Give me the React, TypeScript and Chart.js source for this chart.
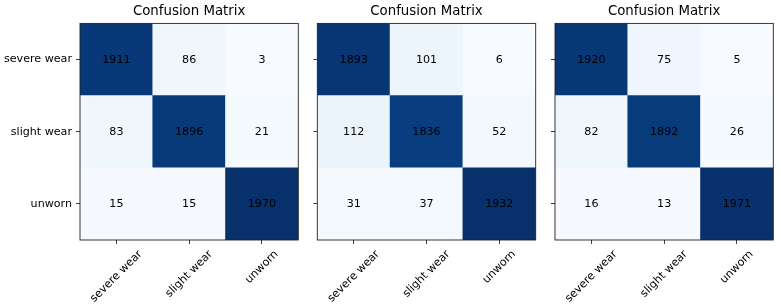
import React, { useEffect, useRef } from 'react';
import { Chart, registerables } from 'chart.js';

Chart.register(...registerables);

const classLabels = ['severe wear', 'slight wear', 'unworn'];
const matrixA = [
  [1911, 86, 3],
  [83, 1896, 21],
  [15, 15, 1970],
];
const matrixB = [
  [1893, 101, 6],
  [112, 1836, 52],
  [31, 37, 1932],
];
const matrixC = [
  [1920, 75, 5],
  [82, 1892, 26],
  [16, 13, 1971],
];
const titleText = 'Confusion Matrix';

const BLUES = ['#f7fbff', '#deebf7', '#c6dbef', '#9ecae1', '#6baed6', '#4292c6', '#2171b5', '#08519c', '#08306b'];

function hexToRgb(h: string) {
  return [parseInt(h.slice(1, 3), 16), parseInt(h.slice(3, 5), 16), parseInt(h.slice(5, 7), 16)];
}

function blues(t: number) {
  const tt = Math.max(0, Math.min(1, t)) * (BLUES.length - 1);
  const i = Math.min(BLUES.length - 2, Math.floor(tt));
  const f = tt - i;
  const a = hexToRgb(BLUES[i]);
  const b = hexToRgb(BLUES[i + 1]);
  const c = a.map((v, k) => Math.round(v + (b[k] - v) * f));
  return `rgb(${c[0]},${c[1]},${c[2]})`;
}

const FONT = 'DejaVu Sans';
const TICK_SIZE = 11.11;
const AXIS_COLOR = '#222';

const framePlugin = {
  id: 'frame',
  afterDraw(chart: any) {
    const { ctx, chartArea } = chart;
    ctx.save();
    ctx.strokeStyle = AXIS_COLOR;
    ctx.lineWidth = 0.9;
    ctx.strokeRect(chartArea.left, chartArea.top, chartArea.right - chartArea.left, chartArea.bottom - chartArea.top);
    ctx.restore();
  },
};

const cellTextPlugin = {
  id: 'cellText',
  afterDatasetsDraw(chart: any) {
    const { ctx } = chart;
    ctx.save();
    ctx.fillStyle = '#000';
    ctx.font = `${TICK_SIZE}px "${FONT}"`;
    ctx.textAlign = 'center';
    ctx.textBaseline = 'middle';
    chart.data.datasets.forEach((ds: any, d: number) => {
      const meta = chart.getDatasetMeta(d);
      meta.data.forEach((el: any, i: number) => {
        const p = el.getProps(['x', 'y', 'base'], true);
        ctx.fillText(String(ds.rowValues[i]), p.x, (p.y + p.base) / 2 + 0.5);
      });
    });
    ctx.restore();
  },
};

const xLabelPlugin = {
  id: 'xLabels',
  afterDraw(chart: any) {
    const { ctx, chartArea } = chart;
    const xs = chart.scales.x;
    ctx.save();
    ctx.fillStyle = '#000';
    ctx.font = `${TICK_SIZE}px "${FONT}"`;
    ctx.textAlign = 'center';
    ctx.textBaseline = 'middle';
    classLabels.forEach((lab, i) => {
      const px = xs.getPixelForTick(i);
      const w = ctx.measureText(lab).width;
      const h = TICK_SIZE * 1.164;
      const cy = chartArea.bottom + 7.8 + ((w + h) * Math.SQRT1_2) / 2;
      ctx.save();
      ctx.translate(px, cy);
      ctx.rotate(-Math.PI / 4);
      ctx.fillText(lab, 0, 0);
      ctx.restore();
    });
    ctx.restore();
  },
};

type PanelProps = {
  matrix: number[][];
  showY: boolean;
  left: number;
  width: number;
  areaLeft: number;
  padRight: number;
};

function Panel({ matrix, showY, left, width, areaLeft, padRight }: PanelProps) {
  const ref = useRef<HTMLCanvasElement>(null);
  useEffect(() => {
    if (!ref.current) return;
    const flat = matrix.flat();
    const mn = Math.min(...flat);
    const mx = Math.max(...flat);
    const rowsBottomUp = [2, 1, 0];
    const datasets = rowsBottomUp.map((r) => ({
      label: classLabels[r],
      data: classLabels.map(() => 1),
      rowValues: matrix[r],
      backgroundColor: matrix[r].map((v) => blues((v - mn) / (mx - mn))),
      borderWidth: 0,
      barPercentage: 1,
      categoryPercentage: 1,
    }));
    const yLabelFor = (v: number) => {
      const idx = 2 - Math.floor(v);
      return classLabels[idx] ?? '';
    };
    const chart = new Chart(ref.current, {
      type: 'bar',
      data: { labels: classLabels, datasets: datasets as any },
      options: {
        animation: false,
        responsive: false,
        maintainAspectRatio: false,
        events: [],
        layout: { padding: { left: 0, right: padRight, top: 0, bottom: 0 } },
        plugins: {
          legend: { display: false },
          tooltip: { enabled: false },
          title: {
            display: true,
            text: titleText,
            fullSize: false,
            color: '#000',
            font: { family: FONT, size: 13.33, weight: 'normal' },
            padding: { top: 4, bottom: 3.4 },
          },
        },
        scales: {
          x: {
            type: 'category',
            stacked: true,
            offset: true,
            grid: { offset: false, drawOnChartArea: false, drawTicks: true, tickLength: 4, color: AXIS_COLOR, lineWidth: 0.9 },
            border: { display: false },
            ticks: { callback: () => '', maxRotation: 0, minRotation: 0, padding: 0 },
            afterFit: (s: any) => {
              s.height = 66;
            },
          },
          y: {
            type: 'linear',
            stacked: true,
            min: 0,
            max: 3,
            afterBuildTicks: (s: any) => {
              s.ticks = [0.5, 1.5, 2.5].map((v) => ({ value: v }));
            },
            grid: { drawOnChartArea: false, drawTicks: true, tickLength: 4, color: AXIS_COLOR, lineWidth: 0.9 },
            border: { display: false },
            ticks: {
              callback: (v: any) => (showY ? yLabelFor(Number(v)) : ''),
              color: '#000',
              font: { family: FONT, size: TICK_SIZE },
              padding: 4,
            },
            afterFit: (s: any) => {
              s.width = areaLeft;
            },
          },
        },
      } as any,
      plugins: [cellTextPlugin, framePlugin, xLabelPlugin],
    });
    return () => chart.destroy();
  }, [matrix, showY, areaLeft, padRight]);
  return (
    <canvas
      ref={ref}
      width={width}
      height={306}
      style={{ position: 'absolute', left, top: 0, width, height: 306, display: 'block' }}
    />
  );
}

export default function App() {
  return (
    <div style={{ position: 'absolute', left: 0, top: 0, width: 781, height: 306, background: '#fff', overflow: 'hidden' }}>
      <Panel matrix={matrixA} showY={true} left={0} width={308} areaLeft={80} padRight={9.7} />
      <Panel matrix={matrixB} showY={false} left={308} width={237} areaLeft={9.3} padRight={9.3} />
      <Panel matrix={matrixC} showY={false} left={545} width={236} areaLeft={10} padRight={7.7} />
    </div>
  );
}
